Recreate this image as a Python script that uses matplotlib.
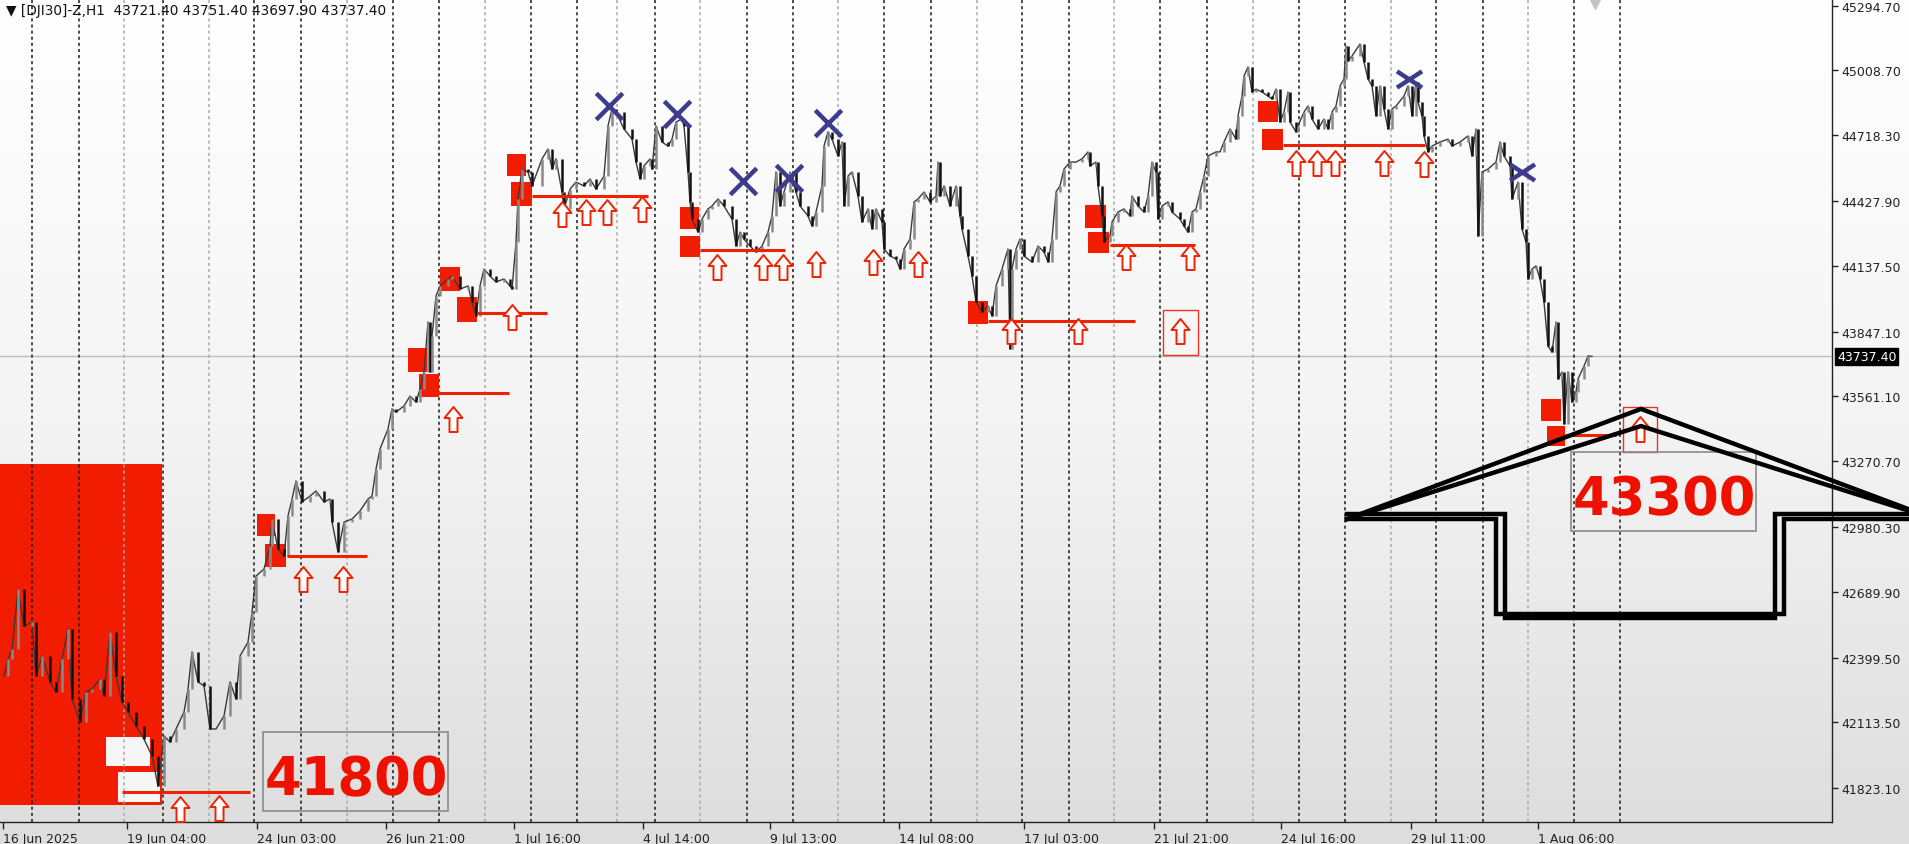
import numpy as np
import matplotlib
matplotlib.use("Agg")
import matplotlib.pyplot as plt
from matplotlib.path import Path
from matplotlib.patches import Rectangle
from matplotlib.collections import LineCollection
from matplotlib.colors import LinearSegmentedColormap
import matplotlib.transforms as mtransforms

# ---------------- data ----------------
bar_index = [2,4,6,9,12,16,18,21,25,28,31,34,36,40,43,46,50,52,55,58,61,64,68,72,76,79,82,85,88,92,94,96,99,102,105,108,112,115,118,120,124,126,128,
             132,135,136,139,142,144,146,148,151,155,158,162,165,166,169,172,176,180,184,186,188,190,
             194,196,198,202,205,208,210,212,214,215,216,218,220,224,226,230,234,236,238,240,242,245,248,252,255,
             256,258,259,261,264,266,271,274,276,278,281,282,285,288,292,295,298,302,304,306,308,312,316,318,320,322,325,326,328,331,
             334,336,338,341,342,344,345,346,349,351,354,356,359,362,366,368,370,372,375,378,381,384,386,388,390,392,395,398,400,404,
             406,408,411,412,414,416,419,
             421,422,424,426,429,431,434,436,438,441,442,445,448,450,452,455,457,459,462,465,468,469,470,472,475,478,480,481,484,486,
             488,491,494,496,498,501,504,505,506,508,510,512,516,519,522,524,526,528,530,532,535,538,541,544,545,548,549,551,552,555,
             556,559,562,565,566,569,572,574,576,578,579,581,584,586,590,592,594,596,598,600,602,604,608,610,612,615,618,
             619,621,622,624,626,628,631,634,636,638,640,642,644,645,648,649,652,654,656,659,662,664,666,668,670,672,673,674,676,680,
             682,684,686,688,690,692,694,696,698,702,704,706,708,709,711,712,714,716,720,724,726,730,734,736,738,739,741,744,748,750,
             752,755,756,759,761,763,764,766,768,770,772,774,776,778,779,781,782,784,786,788,789,792,794,796]
close_price = [42318,42394,42438,42704,42540,42558,42318,42407,42292,42247,42394,42527,42216,42114,42247,42260,42305,42229,42513,42318,
               42203,42158,42096,42038,41963,41830,42052,42025,42083,42158,42260,42425,42292,42274,42083,42083,42141,42292,42216,42407,
               42469,42602,42762,
               42793,42895,43015,42882,42851,43029,43104,43184,43091,43117,43140,43091,43104,43002,42869,43002,43015,43051,43104,43117,43237,43326,
               43415,43504,43490,43517,43561,43535,43592,43668,43890,43668,43828,44005,44050,44081,44094,44036,44050,43979,43917,44050,44125,44094,44068,44081,44050,
               44036,44245,44436,44569,44556,44494,44614,44658,44569,44614,44467,44392,44480,44511,44494,44525,44480,44538,44760,44836,
               44822,44747,44702,44600,44525,44583,44614,44569,44760,44689,44671,44702,44778,44791,44760,44556,44423,44347,44289,44347,
               44392,44405,44436,44405,44347,44227,44289,44258,44227,44201,44227,44289,44361,44556,44405,44467,44556,44467,44405,44361,
               44316,44378,44494,44671,44734,44702,44627,
               44689,44405,44538,44556,44449,44334,44392,44303,44392,44334,44214,44183,44170,44125,44214,44258,44423,44436,44467,44423,
               44449,44600,44449,44494,44405,44494,44361,44303,44183,44094,43979,43934,43961,43917,44050,44125,44214,43770,44125,44214,
               44258,44183,44156,44227,44201,44156,44258,44467,44494,44569,44600,44600,44614,44645,44583,44600,44494,44361,44245,44272,
               44334,44378,44392,44361,44449,44405,44378,44449,44600,44556,44347,44405,44423,44378,44347,44316,44289,44378,44392,44467,
               44538,44627,44645,44645,44689,44747,44702,
               44805,44893,44982,45022,44911,44924,44911,44893,44880,44924,44778,44822,44911,44778,44734,44760,44822,44849,44791,44747,
               44791,44747,44822,44849,44938,44969,45115,45049,45071,45124,45044,44969,44938,44805,44938,44836,44747,44836,44849,44893,
               44938,44805,44956,44867,44805,44716,44645,44671,44689,44702,44671,44689,44716,44627,44747,44272,44556,44569,44600,44689,
               44627,44583,44436,44511,44303,44245,44081,44125,44139,44081,43979,43783,43757,43890,43637,43668,43437,43668,43535,43579,
               43637,43694,43739,43737]

last_price = 43737.40
header_text = "\u25BC [DJI30]-Z,H1  43721.40 43751.40 43697.90 43737.40"

ytick_values = [45294.70, 45008.70, 44718.30, 44427.90, 44137.50, 43847.10, 43561.10,
                43270.70, 42980.30, 42689.90, 42399.50, 42113.50, 41823.10]
xtick_bars = [1.5, 63.5, 128.5, 193, 257, 321.5, 385, 449.5, 512, 577, 640.5, 705.5, 769]
xtick_labels = ["16 Jun 2025", "19 Jun 04:00", "24 Jun 03:00", "26 Jun 21:00", "1 Jul 16:00",
                "4 Jul 14:00", "9 Jul 13:00", "14 Jul 08:00", "17 Jul 03:00", "21 Jul 21:00",
                "24 Jul 16:00", "29 Jul 11:00", "1 Aug 06:00"]
day_sep_black = [16, 39.5, 81.5, 127, 150.5, 196.5, 219.5, 265.5, 288.5, 327.5, 373.5, 396.5,
                 442, 465.5, 511, 534.5, 580, 603.5, 649.5, 672.5, 718, 741.5, 787, 810]
day_sep_gray = [62, 104.5, 173.5, 242.5, 308.5, 350, 419, 488.5, 557, 626.5, 695.5, 764]

# order-block squares: (bar_start, bar_end, price_low, price_high)
zone_boxes = [(128.5,137.5,42940,43037),(132.5,143,42802,42904),(204,213.5,43668,43774),(209.5,219.5,43557,43659),
              (220,230,44028,44134),(228.5,238.5,43890,44001),(253.5,263,44538,44636),(255.5,266,44405,44511),
              (340,349.5,44303,44400),(340,350,44178,44272),(484,494,43881,43983),(542.5,553,44307,44409),
              (544,554.5,44196,44289),(629,639,44778,44871),(631,641.5,44654,44747),(770.5,780.5,43450,43548),
              (773.5,782.5,43339,43428)]
# level lines: (bar_start, bar_end, price)
level_lines = [(61,125,41803),(143.5,183.5,42851),(219,254.5,43575),(238.5,273.5,43930),(266,324,44449),
               (350,392.5,44210),(494,567.5,43894),(555,597.5,44232),(641.5,712.5,44676),(782.5,808,43388)]
# up arrows (bar, price)
arrow_bar = [90,109.5,151.5,171.5,226.5,256,281,293,303.5,321,358.5,381.5,391.5,408,436.5,459,505.5,539,563,595,590,
             648,658.5,667.5,692,712,820]
arrow_price = [41728,41732,42749,42749,43459,43912,44369,44378,44378,44392,44134,44134,44134,44147,44156,44147,43850,
               43850,44179,44179,43850,44596,44596,44596,44596,44591,43415]
# boxes round single arrows
arrow_frames = [(581.5,599,43743,43943),(811.5,828.5,43313,43513)]
# blue crosses
cross_bar = [304.5,338.5,371.5,394.5,414]
cross_price = [44849,44813,44516,44529,44773]
flat_cross_bar = [704.5,761]
flat_cross_price = [44969,44556]
# big red zone and white boxes
red_zone = (-2, 81, 41745, 43259)
white_boxes = [(53,75,41919,42047),(59,80,41759,41892)]
# price labels with frames
label_41800 = dict(text="41800", bar=178, base=41794, frame=(131.5,224,41719,42070))
label_43300 = dict(text="43300", bar=832, base=43037, frame=(785.5,878,42962,43313))
# big hand-drawn black arrow (bar, price)
big_arrow_a = [(673.5,43015),(820.5,43504),(967.5,43015)]
big_arrow_b = [(673.5,43015),(820.5,43428),(967.5,43015)]
big_arrow_c = [(673.5,43037),(752.5,43037),(752.5,42576),(887.5,42576),(887.5,43037),(967.5,43037)]
big_arrow_d = [(673.5,43015),(748,43015),(748,42593),(892,42593),(892,43015),(967.5,43015)]

# ---------------- figure ----------------
W, H = 1909, 845
fig = plt.figure(figsize=(W / 100, H / 100), dpi=100)
plt.rcParams["font.family"] = ["DejaVu Sans"]

bg = fig.add_axes([0, 0, 1, 1], zorder=-10)
grad = np.linspace(0, 1, 256).reshape(-1, 1)
cmap = LinearSegmentedColormap.from_list("bg", ["#ffffff", "#f4f4f4", "#dddddd"])
bg.imshow(grad, aspect="auto", cmap=cmap, extent=[0, 1, 0, 1], origin="upper")
bg.axis("off")

ax = fig.add_axes([0, 22 / H, 1832 / W, 823 / H])
ax.set_facecolor("none")
ax.set_xlim(0, 916)
ax.set_ylim(41670, 45324)

RED = "#f21d00"

# separators
for b in day_sep_gray:
    ax.axvline(b, color="#a9a9a9", lw=1.1, ls=(0, (2, 2)), zorder=2)
for b in day_sep_black:
    ax.axvline(b, color="#1a1a1a", lw=1.1, ls=(0, (2, 2)), zorder=2)

# left red zone and white boxes
x0, x1, p0, p1 = red_zone
ax.add_patch(Rectangle((x0, p0), x1 - x0, p1 - p0, fc=RED, ec="none", zorder=1))
for (a, b, lo, hi) in white_boxes:
    ax.add_patch(Rectangle((a, lo), b - a, hi - lo, fc="#f6f6f6", ec="none", zorder=1.5))

# order-block squares
for (a, b, lo, hi) in zone_boxes:
    ax.add_patch(Rectangle((a, lo), b - a, hi - lo, fc=RED, ec="none", zorder=2.5))

# current price line
ax.axhline(last_price, color="#bdbdbd", lw=1, zorder=1.8)

# candles: thin connecting path plus vertical range segments
ax.plot(bar_index, close_price, color="#3a3a3a", lw=1.0, zorder=2.9)
segs, cols = [], []
for i in range(1, len(bar_index)):
    segs.append([(bar_index[i], close_price[i - 1]), (bar_index[i], close_price[i])])
    cols.append("#111111" if close_price[i] < close_price[i - 1] else "#8a8a8a")
ax.add_collection(LineCollection(segs, colors=cols, linewidths=1.8, zorder=3))

# level lines
for (a, b, p) in level_lines:
    ax.plot([a, b], [p, p], color="#ee2200", lw=2.2, solid_capstyle="butt", zorder=4)

# hollow up arrows
arrow_path = Path([(0, 12.5), (9, 1.5), (4, 1.5), (4, -12.5), (-4, -12.5), (-4, 1.5), (-9, 1.5), (0, 12.5)],
                  [Path.MOVETO] + [Path.LINETO] * 6 + [Path.CLOSEPOLY])
ax.plot(arrow_bar, arrow_price, ls="none", marker=arrow_path, ms=18, mfc="white", mec="#ee2200",
        mew=1.4, zorder=6)
for (a, b, lo, hi) in arrow_frames:
    ax.add_patch(Rectangle((a, lo), b - a, hi - lo, fc="none", ec="#ee3322", lw=1.0, zorder=5))

# blue crosses
xpath = Path([(-1, -1), (1, 1), (-1, 1), (1, -1)], [Path.MOVETO, Path.LINETO, Path.MOVETO, Path.LINETO])
xflat = Path([(-1, -0.65), (1, 0.65), (-1, 0.65), (1, -0.65)], [Path.MOVETO, Path.LINETO, Path.MOVETO, Path.LINETO])
ax.plot(cross_bar, cross_price, ls="none", marker=xpath, ms=19, mec="#3d3b8e", mew=3.2, zorder=7)
ax.plot(flat_cross_bar, flat_cross_price, ls="none", marker=xflat, ms=18, mec="#3d3b8e", mew=3.2, zorder=7)

# framed price labels
for lab in (label_41800, label_43300):
    a, b, lo, hi = lab["frame"]
    ax.add_patch(Rectangle((a, lo), b - a, hi - lo, fc="none", ec="#8a8a8a", lw=1.2, zorder=5))
    ax.text(lab["bar"], lab["base"], lab["text"], color="#ee1100", fontsize=38, fontweight="bold",
            ha="center", va="baseline", zorder=8, family="DejaVu Sans")

# big black hand-drawn arrow
for pts in (big_arrow_a, big_arrow_b, big_arrow_c, big_arrow_d):
    xs, ys = zip(*pts)
    ax.plot(xs, ys, color="black", lw=3.2, solid_joinstyle="miter", clip_on=False, zorder=9)

# axes styling
for s in ("top", "left"):
    ax.spines[s].set_visible(False)
for s in ("right", "bottom"):
    ax.spines[s].set_color("#222222")
    ax.spines[s].set_linewidth(1.0)
ax.yaxis.tick_right()
ax.set_yticks(ytick_values)
ax.set_yticklabels([f"{v:.2f}" for v in ytick_values])
ax.tick_params(axis="y", direction="out", length=4, width=1, pad=3, labelsize=9, colors="#222222")
ax.set_xticks(xtick_bars)
ax.set_xticklabels(xtick_labels, ha="left")
ax.tick_params(axis="x", direction="out", length=5, width=1, pad=2, labelsize=9, colors="#222222")

# current price tag
tr = mtransforms.blended_transform_factory(ax.transAxes, ax.transData)
ax.text(1.0 + 5 / 1832, last_price, f"{last_price:.2f}", transform=tr, ha="left", va="center",
        color="white", fontsize=9, zorder=10, clip_on=False,
        bbox=dict(boxstyle="square,pad=0.15", fc="black", ec="black"))

# shift marker
ax.plot([797.5], [45302], marker="v", color="#c4c4c4", ms=7, clip_on=False, zorder=5)

# header
fig.text(6 / W, 1 - 11 / H, header_text, fontsize=9.8, va="center", ha="left", color="#111111")

fig.savefig("out.png", dpi=100)
